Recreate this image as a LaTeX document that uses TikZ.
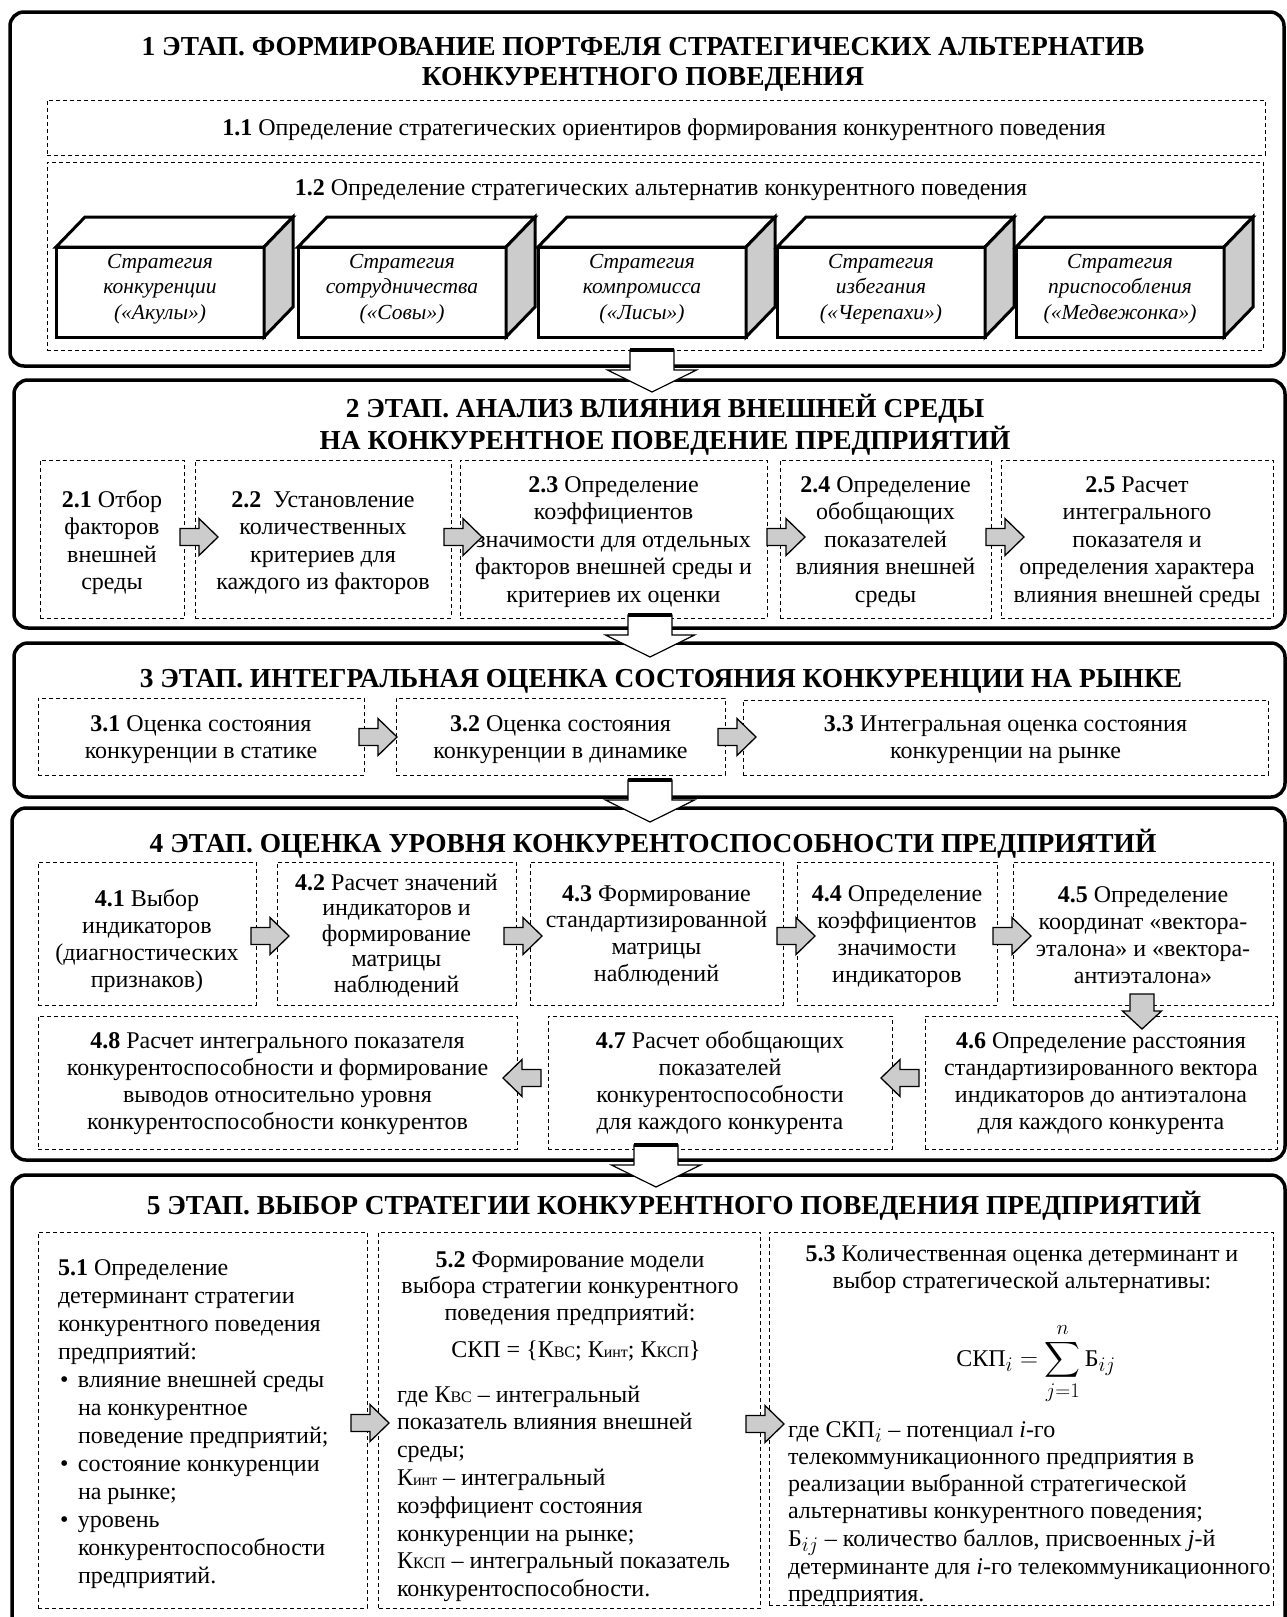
\documentclass[tikz,border=0pt]{standalone}
\usepackage{amsmath}
\usepackage{graphicx}
\usepackage{fontspec}
\setmainfont{Liberation Serif}
\usetikzlibrary{fit}
\DeclareMathSizes{24}{24}{21}{15}
\newcommand\mlc[1]{\begin{tabular}[t]{@{}c@{}}#1\end{tabular}}
\newcommand\mll[1]{\begin{tabular}[t]{@{}l@{}}#1\end{tabular}}
\newcommand\kb[1]{{\fontsize{16}{16}\selectfont #1}}
\tikzset{
  stageframe/.style={draw, line width=3.5pt, rounded corners=14pt, inner sep=0pt, outer sep=0pt},
  dbox/.style={draw, line width=1pt, dash pattern=on 4pt off 3pt, inner sep=0pt, outer sep=0pt},
  cube/.style={draw, line width=3pt, line join=miter},
  front/.style={draw, fill=white, line width=3pt, inner sep=0pt, outer sep=0pt},
  txt/.style={inner sep=0pt, outer sep=0pt, font=\fontsize{24}{27.6}\selectfont},
  ttl/.style={inner sep=0pt, outer sep=0pt, font=\fontsize{27.4}{30}\selectfont\bfseries},
  itx/.style={inner sep=0pt, outer sep=0pt, font=\fontsize{21.5}{25.5}\selectfont\itshape},
  garrow/.style={fill=gray!40, draw=black, line width=1.3pt, line join=miter},
  rarr/.pic={\draw[garrow] (0,-8.5) -- (19,-8.5) -- (19,-18.5) -- (38,0) -- (19,18.5) -- (19,8.5) -- (0,8.5) -- cycle;},
  darr/.pic={\draw[garrow] (-12,0) -- (-12,17) -- (-19.5,17) -- (0,35) -- (19.5,17) -- (12,17) -- (12,0) -- cycle;},
  sarr/.pic={\draw[fill=white, line width=1.2pt] (-22,0) -- (-22,20) -- (-44.5,20) -- (0,42) -- (44.5,20) -- (22,20) -- (22,0) -- cycle;
             \draw[line width=4pt] (-22,0) -- (22,0);}
}
\begin{document}
\begin{tikzpicture}[x=1pt,y=-1pt]
\useasboundingbox (0,0) rectangle (1287,1617);
\fill[white] (0,0) rectangle (1287,1617);

% stage frames
\node[stageframe, fit={(10,12) (1284,366)}] (fr1) {};
\node[stageframe, fit={(14,380) (1285,628)}] (fr2) {};
\node[stageframe, fit={(14,643) (1285,797)}] (fr3) {};
\node[stageframe, fit={(12,808) (1285,1160)}] (fr4) {};
\node[stageframe, fit={(12,1175) (1285,1640)}] (fr5) {};

% ---------- stage 1
\node[ttl, anchor=base] (ttl1) at (643,55) {\mlc{1 ЭТАП. ФОРМИРОВАНИЕ ПОРТФЕЛЯ СТРАТЕГИЧЕСКИХ АЛЬТЕРНАТИВ\\КОНКУРЕНТНОГО ПОВЕДЕНИЯ}};
\node[dbox, fit={(47,100) (1265,155)}] (b11) {};
\node[txt, anchor=base] (t11) at (664,135) {\textbf{1.1} Определение стратегических ориентиров формирования конкурентного поведения};
\node[dbox, fit={(47,162) (1263,350)}] (b12) {};
\node[txt, anchor=base] (t12) at (661,195) {\textbf{1.2} Определение стратегических альтернатив конкурентного поведения};

\foreach \i/\x in {1/56,2/298,3/538,4/777,5/1016} {
  \node[front, minimum width=208pt, minimum height=90pt, anchor=north west] (s\i) at (\x,247) {};
  \draw[cube, fill=white] (s\i.north west) -- ++(29,-30) -- ++(208,0) -- (s\i.north east) -- cycle;
  \draw[cube, fill=gray!40] (s\i.north east) -- ++(29,-30) -- ++(0,90) -- (s\i.south east) -- cycle;
}
\node[itx, anchor=base] (st1) at (160,268) {\mlc{Стратегия\\конкуренции\\(«Акулы»)}};
\node[itx, anchor=base] (st2) at (402,268) {\mlc{Стратегия\\сотрудничества\\(«Совы»)}};
\node[itx, anchor=base] (st3) at (642,268) {\mlc{Стратегия\\компромисса\\(«Лисы»)}};
\node[itx, anchor=base] (st4) at (881,268) {\mlc{Стратегия\\избегания\\(«Черепахи»)}};
\node[itx, anchor=base] (st5) at (1120,268) {\mlc{Стратегия\\приспособления\\(«Медвежонка»)}};

% ---------- stage 2
\node[ttl, anchor=base] (ttl2) at (665,417) {\mlc{2 ЭТАП. АНАЛИЗ ВЛИЯНИЯ ВНЕШНЕЙ СРЕДЫ\\НА КОНКУРЕНТНОЕ ПОВЕДЕНИЕ ПРЕДПРИЯТИЙ}};
\node[dbox, fit={(40,460) (184.5,618)}] (b21) {};
\node[dbox, fit={(195,460) (451,618)}] (b22) {};
\node[dbox, fit={(460,460) (767,618)}] (b23) {};
\node[dbox, fit={(780,460) (991,618)}] (b24) {};
\node[dbox, fit={(1001,460) (1273,618)}] (b25) {};
\node[txt, anchor=base] (t21) at (112,507) {\mlc{\textbf{2.1} Отбор\\факторов\\внешней\\среды}};
\node[txt, anchor=base] (t22) at (323,507) {\mlc{\textbf{2.2}\ \ Установление\\количественных\\критериев для\\каждого из факторов}};
\node[txt, anchor=base] (t23) at (613.5,492) {\mlc{\textbf{2.3} Определение\\коэффициентов\\значимости для отдельных\\факторов внешней среды и\\критериев их оценки}};
\node[txt, anchor=base] (t24) at (885.5,492) {\mlc{\textbf{2.4} Определение\\обобщающих\\показателей\\влияния внешней\\среды}};
\node[txt, anchor=base] (t25) at (1137,492) {\mlc{\textbf{2.5} Расчет\\интегрального\\показателя и\\определения характера\\влияния внешней среды}};
\pic at (180,537) {rarr};
\pic at (444,537) {rarr};
\pic at (767,537) {rarr};
\pic at (986,537) {rarr};

% ---------- stage 3
\node[ttl, anchor=base] (ttl3) at (661,687) {3 ЭТАП. ИНТЕГРАЛЬНАЯ ОЦЕНКА СОСТОЯНИЯ КОНКУРЕНЦИИ НА РЫНКЕ};
\node[dbox, fit={(38,698) (364,775)}] (b31) {};
\node[dbox, fit={(396,698) (725,775)}] (b32) {};
\node[dbox, fit={(743,700) (1268,775)}] (b33) {};
\node[txt, anchor=base] (t31) at (201,731) {\mlc{\textbf{3.1} Оценка состояния\\конкуренции в статике}};
\node[txt, anchor=base] (t32) at (560.5,731) {\mlc{\textbf{3.2} Оценка состояния\\конкуренции в динамике}};
\node[txt, anchor=base] (t33) at (1005.5,731) {\mlc{\textbf{3.3} Интегральная оценка состояния\\конкуренции на рынке}};
\pic at (359,737) {rarr};
\pic at (718,737) {rarr};

% ---------- stage 4
\node[ttl, anchor=base] (ttl4) at (653,852) {4 ЭТАП. ОЦЕНКА УРОВНЯ КОНКУРЕНТОСПОСОБНОСТИ ПРЕДПРИЯТИЙ};
\node[dbox, fit={(38,862) (256,1005)}] (b41) {};
\node[dbox, fit={(277,862) (516,1005)}] (b42) {};
\node[dbox, fit={(530,862) (783,1005)}] (b43) {};
\node[dbox, fit={(797,862) (997,1005)}] (b44) {};
\node[dbox, fit={(1013,862) (1273,1005)}] (b45) {};
\node[dbox, fit={(38,1016) (517,1149)}] (b48) {};
\node[dbox, fit={(548,1016) (892,1149)}] (b47) {};
\node[dbox, fit={(925,1016) (1277,1149)}] (b46) {};
\node[txt, anchor=base, font=\fontsize{24}{27}\selectfont] (t41) at (147,906) {\mlc{\textbf{4.1} Выбор\\индикаторов\\(диагностических\\признаков)}};
\node[txt, anchor=base, font=\fontsize{24}{25.5}\selectfont] (t42) at (396.5,890) {\mlc{\textbf{4.2} Расчет значений\\индикаторов и\\формирование\\матрицы\\наблюдений}};
\node[txt, anchor=base, font=\fontsize{24}{26.7}\selectfont] (t43) at (656.5,901) {\mlc{\textbf{4.3} Формирование\\стандартизированной\\матрицы\\наблюдений}};
\node[txt, anchor=base, font=\fontsize{24}{27}\selectfont] (t44) at (897,901) {\mlc{\textbf{4.4} Определение\\коэффициентов\\значимости\\индикаторов}};
\node[txt, anchor=base, font=\fontsize{24}{27}\selectfont] (t45) at (1143,902) {\mlc{\textbf{4.5} Определение\\координат «вектора-\\эталона» и «вектора-\\антиэталона»}};
\node[txt, anchor=base, font=\fontsize{24}{27.3}\selectfont] (t48) at (277.5,1048) {\mlc{\textbf{4.8} Расчет интегрального показателя\\конкурентоспособности и формирование\\выводов относительно уровня\\конкурентоспособности конкурентов}};
\node[txt, anchor=base, font=\fontsize{24}{27.3}\selectfont] (t47) at (720,1048) {\mlc{\textbf{4.7} Расчет обобщающих\\показателей\\конкурентоспособности\\для каждого конкурента}};
\node[txt, anchor=base, font=\fontsize{24}{27.3}\selectfont] (t46) at (1101,1048) {\mlc{\textbf{4.6} Определение расстояния\\стандартизированного вектора\\индикаторов до антиэталона\\для каждого конкурента}};
\pic at (251,936) {rarr};
\pic at (504,936) {rarr};
\pic at (777,936) {rarr};
\pic at (993,936) {rarr};
\pic at (1142,994) {darr};
\pic[xscale=-1] at (919,1078) {rarr};
\pic[xscale=-1] at (541,1078) {rarr};

% ---------- stage 5
\node[ttl, anchor=base] (ttl5) at (674,1214) {5 ЭТАП. ВЫБОР СТРАТЕГИИ КОНКУРЕНТНОГО ПОВЕДЕНИЯ ПРЕДПРИЯТИЙ};
\node[dbox, fit={(38,1232) (367,1608)}] (b51) {};
\node[dbox, fit={(378.5,1232) (760.5,1608)}] (b52) {};
\node[dbox, fit={(769,1232) (1273,1605)}] (b53) {};
\node[txt, anchor=base west, font=\fontsize{24}{28}\selectfont] (t51) at (58,1275) {\mll{\textbf{5.1} Определение\\детерминант стратегии\\конкурентного поведения\\предприятий:\\\hspace*{2pt}\makebox[18pt][l]{•}влияние внешней среды\\\hspace*{20pt}на конкурентное\\\hspace*{20pt}поведение предприятий;\\\hspace*{2pt}\makebox[18pt][l]{•}состояние конкуренции\\\hspace*{20pt}на рынке;\\\hspace*{2pt}\makebox[18pt][l]{•}уровень\\\hspace*{20pt}конкурентоспособности\\\hspace*{20pt}предприятий.}};
\node[txt, anchor=base, font=\fontsize{24}{26.5}\selectfont] (t52a) at (570,1267) {\mlc{\textbf{5.2} Формирование модели\\выбора стратегии конкурентного\\поведения предприятий:}};
\node[txt, anchor=base] (t52f) at (576,1357) {СКП = \{К\kb{ВС}; К\kb{инт}; К\kb{КСП}\}};
\node[txt, anchor=base west, font=\fontsize{24}{27.8}\selectfont] (t52b) at (397,1402) {\mll{где К\kb{ВС} – интегральный\\показатель влияния внешней\\среды;\\К\kb{инт} – интегральный\\коэффициент состояния\\конкуренции на рынке;\\К\kb{КСП} – интегральный показатель\\конкурентоспособности.}};
\node[txt, anchor=base, font=\fontsize{24}{27}\selectfont] (t53a) at (1022,1261) {\mlc{\textbf{5.3} Количественная оценка детерминант и\\выбор стратегической альтернативы:}};
\node[txt, anchor=base] (t53f) at (1036,1366) {$\displaystyle\text{СКП}_i = \sum_{j=1}^{n}\text{Б}_{ij}$};
\node[txt, anchor=base west, font=\fontsize{24}{27.3}\selectfont] (t53b) at (788,1437) {\mll{где СКП$_i$ – потенциал \textit{i}-го\\телекоммуникационного предприятия в\\реализации выбранной стратегической\\альтернативы конкурентного поведения;\\Б$_{ij}$ – количество баллов, присвоенных \textit{j}-й\\детерминанте для \textit{i}-го телекоммуникационного\\предприятия.}};
\pic at (351,1423) {rarr};
\pic at (746,1424) {rarr};

% ---------- arrows between stages
\pic at (652,350) {sarr};
\pic at (650,615) {sarr};
\pic at (650,780) {sarr};
\pic at (656,1145) {sarr};
\end{tikzpicture}
\end{document}
